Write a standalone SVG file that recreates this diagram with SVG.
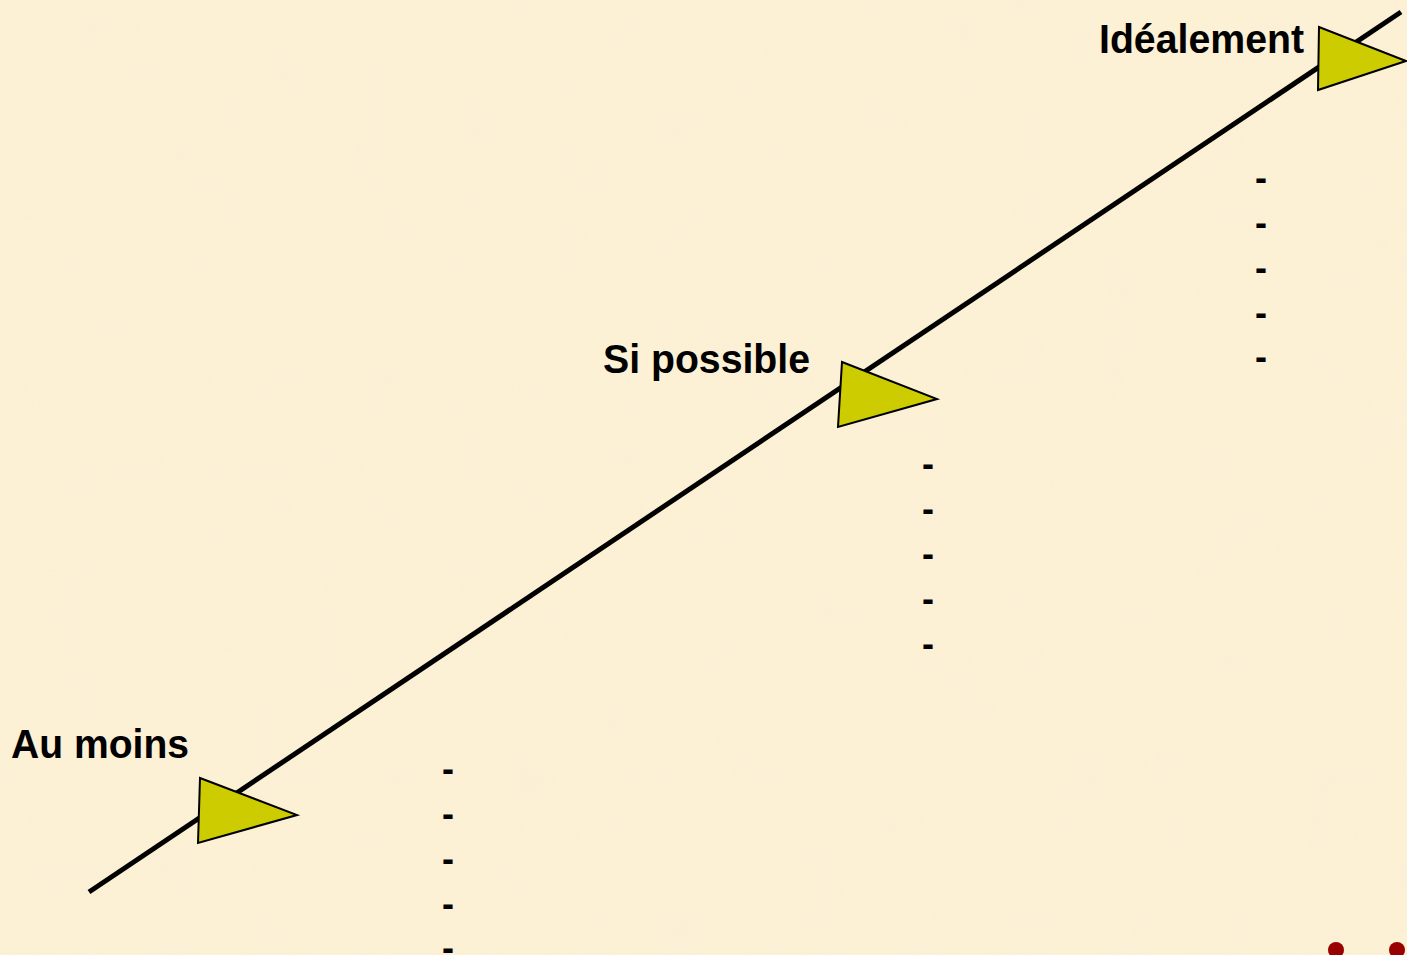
<svg xmlns="http://www.w3.org/2000/svg" width="1407" height="955" viewBox="0 0 1407 955">
<style>
.lbl{font-family:"Liberation Sans",Arial,sans-serif;font-weight:bold;font-size:40px;fill:#000}
.dash{font-family:"Liberation Sans",Arial,sans-serif;font-weight:bold;font-size:36px;fill:#000;text-anchor:middle}
.tri{fill:#CCCC00;stroke:#000;stroke-width:2;stroke-linejoin:miter}
.axis{stroke:#000;stroke-width:5;fill:none}
.dot{fill:#990000}
</style>
<defs>
<filter id="paper" x="0" y="0" width="100%" height="100%">
<feTurbulence type="fractalNoise" baseFrequency="0.02" numOctaves="3" seed="4" result="n"/>
<feColorMatrix in="n" type="matrix" values="0 0 0 0 0.93  0 0 0 0 0.85  0 0 0 0 0.66  0 0 0 1.2 -0.5"/>
</filter>
</defs>
<g id="background">
<rect width="1407" height="955" fill="#FCF0D5"/>
<rect width="1407" height="955" filter="url(#paper)" opacity="0.35"/>
</g>
<g id="connectors">
<line class="axis" x1="89" y1="892" x2="1401" y2="12"/>
</g>
<g id="node-au-moins">
<polygon class="tri" points="200,778 198,843 297,815"/>
<text class="lbl" x="11" y="758" textLength="178" lengthAdjust="spacingAndGlyphs">Au moins</text>
</g>
<g id="node-si-possible">
<polygon class="tri" points="842,362 838,427 937,399"/>
<text class="lbl" x="603" y="373" textLength="207" lengthAdjust="spacingAndGlyphs">Si possible</text>
</g>
<g id="node-idealement">
<polygon class="tri" points="1319,27 1318,90 1406,61"/>
<text class="lbl" x="1099" y="53" textLength="205" lengthAdjust="spacingAndGlyphs">Idéalement</text>
</g>
<g id="list-au-moins">
<text class="dash" x="448" y="781">-</text>
<text class="dash" x="448" y="826">-</text>
<text class="dash" x="448" y="871">-</text>
<text class="dash" x="448" y="916">-</text>
<text class="dash" x="448" y="960">-</text>
</g>
<g id="list-si-possible">
<text class="dash" x="928" y="476">-</text>
<text class="dash" x="928" y="521">-</text>
<text class="dash" x="928" y="566">-</text>
<text class="dash" x="928" y="611">-</text>
<text class="dash" x="928" y="656">-</text>
</g>
<g id="list-idealement">
<text class="dash" x="1261" y="190">-</text>
<text class="dash" x="1261" y="235">-</text>
<text class="dash" x="1261" y="280">-</text>
<text class="dash" x="1261" y="325">-</text>
<text class="dash" x="1261" y="369">-</text>
</g>
<g id="ellipsis">
<circle class="dot" cx="1336" cy="950" r="8"/>
<circle class="dot" cx="1397" cy="950" r="8"/>
</g>
</svg>
